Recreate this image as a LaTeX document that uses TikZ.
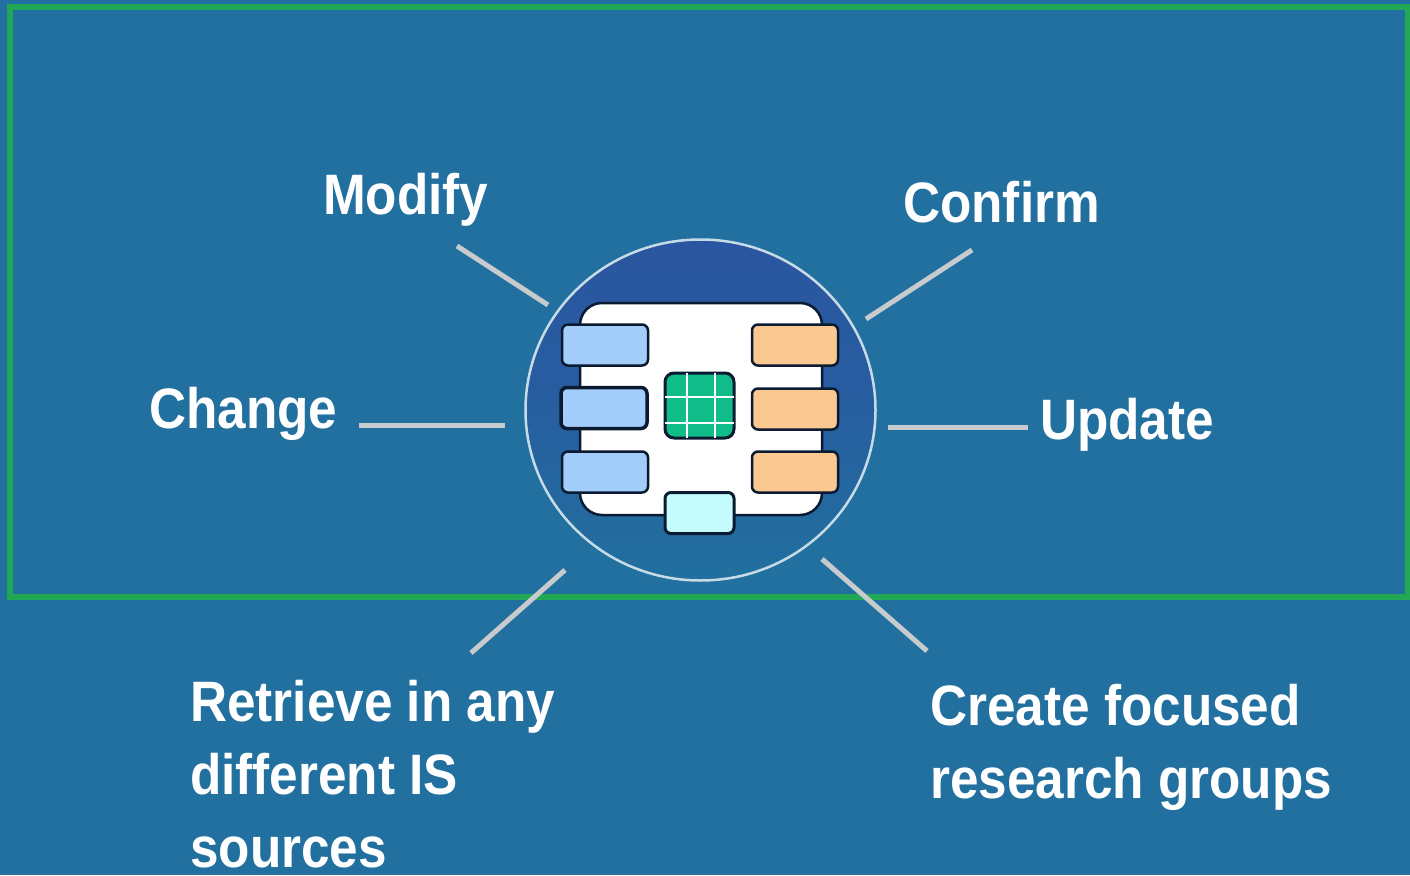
\documentclass[tikz,border=0pt]{standalone}
\usepackage{fontspec}
\setmainfont{Liberation Sans}[FakeStretch=0.90]
\usetikzlibrary{shapes.geometric}
\definecolor{bgblue}{HTML}{21709F}
\definecolor{discblue}{HTML}{2A55A0}
\definecolor{framegreen}{HTML}{22A854}
\definecolor{spokegray}{HTML}{C8CBCE}
\definecolor{inblue}{HTML}{A3CDFB}
\definecolor{outorange}{HTML}{FCC892}
\definecolor{gridgreen}{HTML}{10BC88}
\definecolor{basecyan}{HTML}{C4FCFE}
\definecolor{edgedark}{HTML}{0A1A30}
\tikzset{
    labeltext/.style={text=white,font=\fontsize{57}{73}\selectfont\bfseries,align=left,inner sep=0pt},
    spoke/.style={spokegray,line width=5pt},
    tab/.style={draw=edgedark,line width=2.5pt,rounded corners=6pt,minimum width=86pt,minimum height=41pt,inner sep=0pt},
}
\begin{document}
\begin{tikzpicture}[x=1pt,y=-1pt]
    \fill[bgblue](0,0)rectangle(1410,875);
    \useasboundingbox(0,0)rectangle(1410,875);
    \draw[framegreen,line width=6pt](10,7)rectangle(1408,597);
    % disc with the form on it
    \node[ellipse,draw=white!75!bgblue,line width=2.5pt,top color=discblue,bottom color=bgblue,middle color=discblue!65!bgblue,minimum width=350pt,minimum height=341pt,inner sep=0pt](disc)at(700.5,410){};
    \node[draw=edgedark,line width=2.5pt,fill=white,rounded corners=22pt,minimum width=242pt,minimum height=212pt,inner sep=0pt](form)at(701,409){};
    \node[tab,fill=inblue](in1)at(605,345){};
    \node[tab,fill=inblue,line width=3.5pt](in2)at(604,408){};
    \node[tab,fill=inblue](in3)at(605,472){};
    \node[tab,fill=outorange](out1)at(795,345){};
    \node[tab,fill=outorange](out2)at(795,409){};
    \node[tab,fill=outorange](out3)at(795,472){};
    \node[tab,fill=basecyan,line width=3pt,minimum width=69pt](base)at(699.5,513){};
    \node[tab,fill=gridgreen,line width=3pt,rounded corners=9pt,minimum width=69pt,minimum height=65pt](grid)at(699.5,405.5){};
    \foreach \x in {687,715} \draw[white,line width=1.5pt](\x,373)--(\x,438);
    \foreach \y in {397,423} \draw[white,line width=1.5pt](665,\y)--(734,\y);
    % labels
    \node[labeltext,anchor=base west](modify)at(323,214){Modify};
    \node[labeltext,anchor=base west](confirm)at(903,222){Confirm};
    \node[labeltext,anchor=base west](change)at(149,428){Change};
    \node[labeltext,anchor=base west](update)at(1040,439){Update};
    \node[labeltext,anchor=north west](retrieve)at(190,680){Retrieve in any\\different IS\\sources};
    \node[labeltext,anchor=north west](create)at(930,684){Create focused\\research groups};
    % spokes
    \coordinate(modifyend)at(457,246);
    \coordinate(modifydisc)at(548,305);
    \coordinate(confirmend)at(972,250);
    \coordinate(confirmdisc)at(866,319);
    \coordinate(changeend)at(359,425);
    \coordinate(changedisc)at(505,425);
    \coordinate(updateend)at(1028,427);
    \coordinate(updatedisc)at(888,427);
    \coordinate(retrieveend)at(471,653);
    \coordinate(retrievedisc)at(565,570);
    \coordinate(createend)at(927,651);
    \coordinate(createdisc)at(822,559);
    \foreach \a in {modify,confirm,change,update,retrieve,create} \draw[spoke](\a end)--(\a disc);
\end{tikzpicture}
\end{document}
